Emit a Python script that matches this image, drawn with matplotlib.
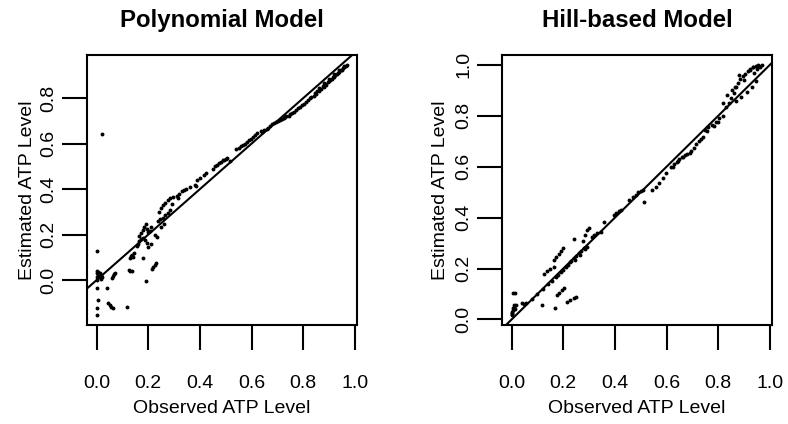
import matplotlib
matplotlib.use("Agg")
import matplotlib.pyplot as plt

plt.rcParams['font.family'] = ['Liberation Sans', 'DejaVu Sans']

# ---------------- data ----------------
titles = ["Polynomial Model", "Hill-based Model"]
x_label = "Observed ATP Level"
y_label = "Estimated ATP Level"
x_ticks = [0.0, 0.2, 0.4, 0.6, 0.8, 1.0]
poly_y_ticks = [0.0, 0.2, 0.4, 0.6, 0.8]
hill_y_ticks = [0.0, 0.2, 0.4, 0.6, 0.8, 1.0]

poly_obs = [
    0.000, 0.001, 0.002, 0.004, 0.006, 0.003, 0.008, 0.010, 0.012, 0.002,
    0.001, 0.004, 0.000, 0.000, 0.022, 0.015, 0.018, 0.020,
    0.039, 0.045, 0.050, 0.055, 0.065, 0.116,
    0.058, 0.062, 0.066, 0.071,
    0.126, 0.130, 0.135,
    0.191,
    0.213, 0.218, 0.225, 0.230,
    0.180, 0.200,
    0.128, 0.132, 0.138, 0.145, 0.140,
    0.155, 0.160, 0.165, 0.172, 0.180, 0.188, 0.195, 0.210,
    0.232, 0.225,
    0.165, 0.172, 0.180, 0.185, 0.190, 0.195, 0.200, 0.205, 0.210,
    0.237, 0.245, 0.255, 0.265, 0.275, 0.284, 0.260, 0.250,
    0.240, 0.248, 0.255, 0.265, 0.275, 0.285, 0.295, 0.290,
    0.310, 0.320, 0.330, 0.345, 0.360, 0.315, 0.338,
    0.380, 0.390, 0.400, 0.415, 0.425, 0.385,
    0.450, 0.465, 0.480, 0.495, 0.505, 0.515, 0.458, 0.472, 0.488, 0.500,
    0.540, 0.560, 0.575, 0.590, 0.605, 0.620, 0.550, 0.568, 0.583, 0.598, 0.612,
    0.635, 0.650, 0.665, 0.680, 0.695, 0.710, 0.725, 0.735,
    0.642, 0.658, 0.672, 0.688, 0.702, 0.718, 0.730,
    0.750, 0.765, 0.780, 0.795, 0.810, 0.825, 0.840,
    0.745, 0.758, 0.772, 0.788, 0.802, 0.818, 0.832,
    0.850, 0.860, 0.870, 0.880, 0.890, 0.900, 0.910, 0.920, 0.930, 0.940,
    0.950, 0.960, 0.970,
    0.845, 0.855, 0.865, 0.875, 0.885, 0.895, 0.905, 0.915, 0.925, 0.935,
    0.945, 0.955, 0.965,
    0.860, 0.880, 0.900, 0.920, 0.940, 0.960,
]
poly_est = [
    0.128, 0.040, 0.030, 0.022, 0.035, 0.015, 0.012, 0.025, 0.030, 0.000,
    -0.037, -0.088, -0.122, -0.154, 0.642, 0.005, 0.020, 0.015,
    -0.037, -0.100, -0.108, -0.118, -0.125, -0.120,
    0.010, 0.018, 0.025, 0.030,
    0.045, 0.040, 0.038,
    -0.003,
    0.050, 0.058, 0.068, 0.075,
    0.098, 0.145,
    0.095, 0.105, 0.112, 0.118, 0.100,
    0.150, 0.160, 0.170, 0.180, 0.185, 0.175, 0.165, 0.160,
    0.190, 0.200,
    0.195, 0.205, 0.220, 0.232, 0.245, 0.225, 0.210, 0.215, 0.235,
    0.260, 0.268, 0.275, 0.285, 0.295, 0.310, 0.245, 0.235,
    0.300, 0.315, 0.330, 0.340, 0.350, 0.360, 0.365, 0.335,
    0.370, 0.380, 0.390, 0.400, 0.410, 0.360, 0.395,
    0.420, 0.440, 0.450, 0.460, 0.470, 0.415,
    0.490, 0.505, 0.520, 0.530, 0.535, 0.525, 0.500, 0.515, 0.528, 0.533,
    0.575, 0.590, 0.600, 0.615, 0.630, 0.645, 0.580, 0.595, 0.608, 0.622, 0.637,
    0.655, 0.660, 0.670, 0.685, 0.695, 0.705, 0.715, 0.720,
    0.652, 0.664, 0.676, 0.690, 0.700, 0.710, 0.718,
    0.730, 0.740, 0.755, 0.770, 0.785, 0.800, 0.810,
    0.722, 0.735, 0.748, 0.762, 0.776, 0.792, 0.805,
    0.820, 0.830, 0.840, 0.850, 0.860, 0.875, 0.885, 0.895, 0.905, 0.915,
    0.925, 0.935, 0.946,
    0.822, 0.832, 0.842, 0.852, 0.862, 0.872, 0.882, 0.892, 0.902, 0.912,
    0.922, 0.932, 0.942,
    0.845, 0.865, 0.885, 0.905, 0.925, 0.940,
]

hill_obs = [
    0.007, 0.012,
    0.000, 0.002, 0.004, 0.006, 0.008, 0.010, 0.012, 0.015, 0.003, 0.001,
    0.041, 0.047, 0.054,
    0.119, 0.168,
    0.176, 0.185, 0.195, 0.203,
    0.215, 0.225, 0.240, 0.249,
    0.126, 0.138, 0.150, 0.164,
    0.164, 0.172, 0.182, 0.190, 0.197,
    0.080, 0.100, 0.120, 0.140, 0.155, 0.170, 0.180, 0.190, 0.200,
    0.210, 0.220, 0.230, 0.240, 0.250, 0.260, 0.270, 0.280, 0.290,
    0.225, 0.245, 0.265, 0.285,
    0.242,
    0.275, 0.283, 0.290, 0.300,
    0.310, 0.320, 0.330, 0.346,
    0.359,
    0.398, 0.405, 0.415, 0.424,
    0.456, 0.470, 0.480, 0.490, 0.500, 0.508,
    0.514,
    0.545, 0.560, 0.570, 0.585, 0.598,
    0.618, 0.630, 0.640, 0.650, 0.660, 0.670, 0.680, 0.689,
    0.625, 0.645, 0.665,
    0.695, 0.705, 0.715, 0.725, 0.735, 0.741,
    0.747, 0.760, 0.775, 0.790, 0.805, 0.819,
    0.755, 0.782, 0.798,
    0.819,
    0.830, 0.840, 0.850, 0.860, 0.870, 0.835, 0.855,
    0.864, 0.875, 0.885, 0.895, 0.905, 0.915, 0.925, 0.934, 0.880, 0.900,
    0.870, 0.890, 0.910, 0.930, 0.945,
    0.922, 0.935, 0.945, 0.955, 0.968, 0.950, 0.960, 0.940, 0.962,
]
hill_est = [
    0.105, 0.102,
    0.017, 0.025, 0.035, 0.045, 0.056, 0.050, 0.040, 0.055, 0.030, 0.020,
    0.063, 0.060, 0.065,
    0.056, 0.043,
    0.096, 0.105, 0.115, 0.123,
    0.069, 0.075, 0.083, 0.089,
    0.180, 0.190, 0.200, 0.206,
    0.233, 0.245, 0.258, 0.270, 0.280,
    0.080, 0.100, 0.120, 0.140, 0.150, 0.165, 0.175, 0.185, 0.195,
    0.205, 0.215, 0.230, 0.240, 0.250, 0.262, 0.270, 0.280, 0.285,
    0.225, 0.232, 0.255, 0.275,
    0.315,
    0.310, 0.330, 0.350, 0.360,
    0.325, 0.330, 0.338, 0.343,
    0.381,
    0.410, 0.420, 0.425, 0.430,
    0.470, 0.480, 0.490, 0.500, 0.505, 0.508,
    0.462,
    0.508, 0.520, 0.535, 0.555, 0.574,
    0.600, 0.610, 0.620, 0.630, 0.640, 0.645, 0.650, 0.653,
    0.598, 0.622, 0.638,
    0.660, 0.675, 0.690, 0.700, 0.710, 0.718,
    0.744, 0.755, 0.765, 0.775, 0.790, 0.800,
    0.740, 0.760, 0.775,
    0.850,
    0.836, 0.850, 0.870, 0.890, 0.915, 0.880, 0.900,
    0.915, 0.930, 0.945, 0.955, 0.965, 0.975, 0.985, 0.993, 0.960, 0.940,
    0.860, 0.875, 0.895, 0.915, 0.935,
    0.980, 0.990, 0.995, 1.000, 0.998, 0.985, 0.995, 0.970, 0.990,
]

# ---------------- figure ----------------
W, H = 788, 424
fig = plt.figure(figsize=(W / 100, H / 100), dpi=100)

FS = 14
panels = [
    dict(x=poly_obs, y=poly_est, title=titles[0], yticks=poly_y_ticks,
         rect=[87 / W, 1 - 325 / H, 270 / W, 270 / H],
         xlim=(-0.0375, 1.0085), ylim=(-0.198, 0.99),
         ylab_x=32, tick_base=53),
    dict(x=hill_obs, y=hill_est, title=titles[1], yticks=hill_y_ticks,
         rect=[502 / W, 1 - 325 / H, 270 / W, 270 / H],
         xlim=(-0.0375, 1.0085), ylim=(-0.022, 1.039),
         ylab_x=445, tick_base=468),
]

for p in panels:
    ax = fig.add_axes(p["rect"])
    ax.plot(p["x"], p["y"], 'o', color='black', markersize=2.8,
            markeredgewidth=0, clip_on=True)
    ax.axline((0, 0), (1, 1), color='black', lw=1.5)
    ax.set_xlim(*p["xlim"])
    ax.set_ylim(*p["ylim"])
    for s in ax.spines.values():
        s.set_linewidth(1.5)
    ax.set_xticks(x_ticks)
    ax.set_xticklabels([f"{t:.1f}" for t in x_ticks])
    ax.set_yticks(p["yticks"])
    ax.set_yticklabels([f"{t:.1f}" for t in p["yticks"]])
    ax.tick_params(axis='both', length=18, width=1.5, labelsize=FS, direction='out')
    ax.tick_params(axis='x', pad=38 / 1.389)
    ax.tick_params(axis='y', pad=(p["rect"][0] * W - 25 - p["tick_base"]) / 1.389)
    for lab in ax.get_xticklabels():
        lab.set_va('baseline')
    for lab in ax.get_yticklabels():
        lab.set_rotation(90)
        lab.set_rotation_mode('anchor')
        lab.set_ha('center')
        lab.set_va('baseline')
    cx = p["rect"][0] + p["rect"][2] / 2
    cy = p["rect"][1] + p["rect"][3] / 2
    fig.text(cx, 1 - 27 / H, p["title"], ha='center', va='baseline',
             fontsize=17.3, fontweight='bold')
    fig.text(cx, 1 - 413 / H, x_label, ha='center', va='baseline', fontsize=FS)
    fig.text(p["ylab_x"] / W, cy, y_label, rotation=90, rotation_mode='anchor',
             ha='center', va='baseline', fontsize=FS)

fig.savefig("out.png", dpi=100)
